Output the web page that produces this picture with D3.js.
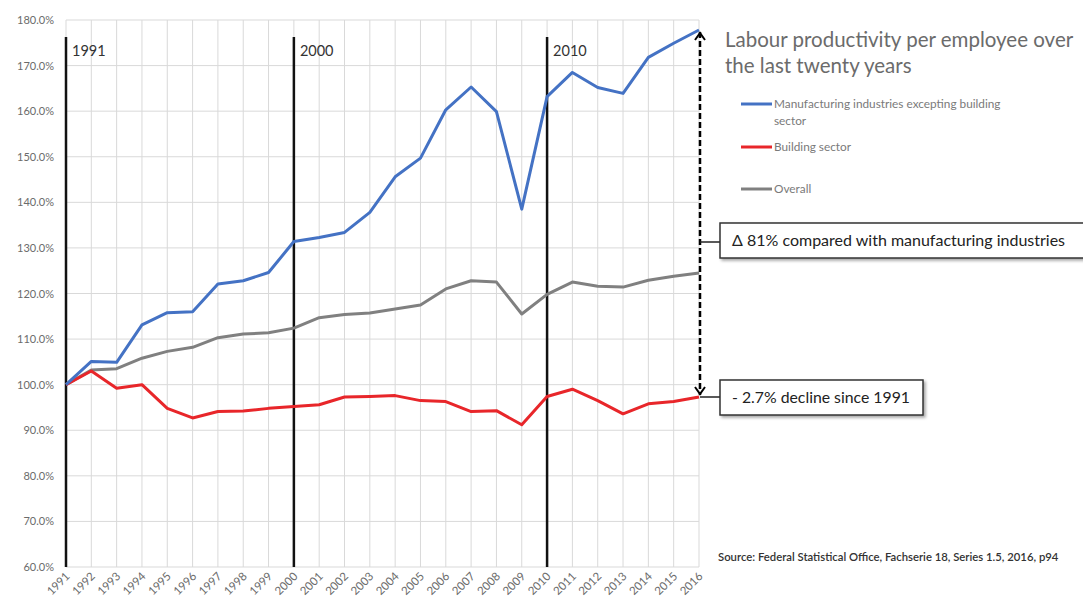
<!DOCTYPE html>
<html><head><meta charset="utf-8">
<script src="https://cdn.jsdelivr.net/npm/d3@7"></script>
<style>
body{margin:0;background:#fff;}
svg{display:block;font-family:Lato, "Open Sans", sans-serif;}
</style></head><body>
<svg id="c" width="1083" height="610"></svg>
<script>
const years = d3.range(1991, 2017);
const manufacturing = [100,105.1,104.9,113.1,115.8,116.0,122.1,122.8,124.6,131.4,132.3,133.4,137.8,145.6,149.7,160.3,165.3,159.9,138.5,163.2,168.5,165.2,163.9,171.8,174.9,177.8];
const building = [100,103.0,99.2,100.0,94.8,92.7,94.1,94.2,94.8,95.2,95.6,97.3,97.4,97.6,96.5,96.3,94.1,94.3,91.2,97.4,99.0,96.5,93.6,95.8,96.3,97.3];
const overall = [100,103.2,103.5,105.8,107.3,108.2,110.3,111.1,111.4,112.4,114.7,115.4,115.7,116.6,117.5,121.0,122.8,122.5,115.5,119.8,122.5,121.6,121.4,122.9,123.8,124.5];
const yTicks = [60,70,80,90,100,110,120,130,140,150,160,170,180];
const decades = [1991, 2000, 2010];
const seriesNames = ["Manufacturing industries excepting building sector","Building sector","Overall"];
const colors = ["#4472C4","#E8262A","#808080"];
const title = ["Labour productivity per employee over","the last twenty years"];
const notes = ["\u0394 81% compared with manufacturing industries","- 2.7% decline since 1991"];
const source = "Source: Federal Statistical Office, Fachserie 18, Series 1.5, 2016, p94";

const svg = d3.select("#c");
const x = d3.scaleLinear().domain([1991,2016]).range([66,699]);
const y = d3.scaleLinear().domain([60,180]).range([567,20]);

const defs = svg.append("defs");
const f = defs.append("filter").attr("id","sh").attr("x","-10%").attr("y","-30%").attr("width","130%").attr("height","180%");
f.append("feDropShadow").attr("dx",2).attr("dy",2).attr("stdDeviation",1.5).attr("flood-color","#000").attr("flood-opacity",0.35);
defs.append("marker").attr("id","ah").attr("viewBox","0 0 12 12").attr("refX",11).attr("refY",6)
  .attr("markerWidth",12).attr("markerHeight",12).attr("markerUnits","userSpaceOnUse").attr("orient","auto-start-reverse")
  .append("path").attr("d","M3,1 L10,6 L3,11").attr("fill","none").attr("stroke","#000").attr("stroke-width",2);

// grid
const g = svg.append("g");
g.selectAll(".vg").data(years).join("line").attr("x1",d=>x(d)).attr("x2",d=>x(d)).attr("y1",y(180)).attr("y2",y(60))
  .attr("stroke","#d9d9d9").attr("stroke-width",1);
g.selectAll(".hg").data(yTicks).join("line").attr("x1",x(1991)).attr("x2",x(2016)).attr("y1",d=>y(d)).attr("y2",d=>y(d))
  .attr("stroke","#d9d9d9").attr("stroke-width",1);

// y axis labels
const ya = svg.append("g").attr("transform",`translate(${x(1991)},0)`)
  .call(d3.axisLeft(y).tickValues(yTicks).tickSize(0).tickPadding(12).tickFormat(d=>d.toFixed(1)+"%"));
ya.select(".domain").remove();
ya.selectAll("text").attr("font-size",11).attr("fill","#6b6b6b").attr("font-family","Lato, sans-serif");

// x axis labels
const xa = svg.append("g").attr("transform",`translate(0,${y(60)})`)
  .call(d3.axisBottom(x).tickValues(years).tickSize(0).tickFormat(d3.format("d")));
xa.select(".domain").remove();
xa.selectAll("text").attr("font-size",11.5).attr("fill","#6b6b6b").attr("text-anchor","end")
  .attr("dy",0).attr("y",0).attr("transform","translate(4,10) rotate(-45)").attr("font-family","Lato, sans-serif");

// decade lines
svg.selectAll(".dec").data(decades).join("line").attr("x1",d=>x(d)).attr("x2",d=>x(d)).attr("y1",37).attr("y2",y(60))
  .attr("stroke","#111").attr("stroke-width",2.5);
svg.selectAll(".dect").data(decades).join("text").attr("x",d=>x(d)+6).attr("y",56).text(d=>d)
  .attr("font-size",14.5).attr("fill","#333");

// lines
const line = d3.line().x((d,i)=>x(years[i])).y(d=>y(d));
[overall, building, manufacturing].forEach((s,k)=>{
  const ci = [2,1,0][k];
  svg.append("path").datum(s).attr("d",line).attr("fill","none").attr("stroke",colors[ci]).attr("stroke-width",3)
    .attr("stroke-linejoin","round");
});

// dashed arrow
const ax = x(2016)+1;
svg.append("line").attr("x1",ax).attr("x2",ax).attr("y1",y(manufacturing[25])+2).attr("y2",y(building[25])-2)
  .attr("stroke","#000").attr("stroke-width",2.5).attr("stroke-dasharray","6,3")
  .attr("marker-start","url(#ah)").attr("marker-end","url(#ah)");

// annotation boxes
const boxes = [{x:720,y:223,w:370,h:35,ly:242,t:notes[0],fs:16},{x:720,y:380,w:203,h:35,ly:397,t:notes[1],fs:15.8}];
boxes.forEach(b=>{
  svg.append("line").attr("x1",ax).attr("x2",b.x).attr("y1",b.ly).attr("y2",b.ly).attr("stroke","#222").attr("stroke-width",1.5);
  svg.append("rect").attr("x",b.x).attr("y",b.y).attr("width",b.w).attr("height",b.h).attr("fill","#fff")
    .attr("stroke","#333").attr("stroke-width",1.5).attr("filter","url(#sh)");
  svg.append("text").attr("x",b.x+12).attr("y",b.y+b.h/2+5.5).text(b.t).attr("font-size",b.fs).attr("fill","#222");
});

// title
svg.selectAll(".tt").data(title).join("text").attr("x",725).attr("y",(d,i)=>47+i*26).text(d=>d)
  .attr("font-size",20.5).attr("fill","#6b6b6b");

// legend
const leg = [{y:104,lines:["Manufacturing industries excepting building","sector"]},{y:147,lines:["Building sector"]},{y:189,lines:["Overall"]}];
leg.forEach((l,i)=>{
  svg.append("line").attr("x1",741).attr("x2",772).attr("y1",l.y).attr("y2",l.y).attr("stroke",colors[i]).attr("stroke-width",3);
  l.lines.forEach((t,j)=>svg.append("text").attr("x",774).attr("y",l.y+4+j*17).text(t).attr("font-size",11.8).attr("fill","#7a7a7a"));
});

// source
svg.append("text").attr("x",718).attr("y",561).text(source).attr("font-size",11.3).attr("fill","#333").attr("font-weight",600);
</script></body></html>
